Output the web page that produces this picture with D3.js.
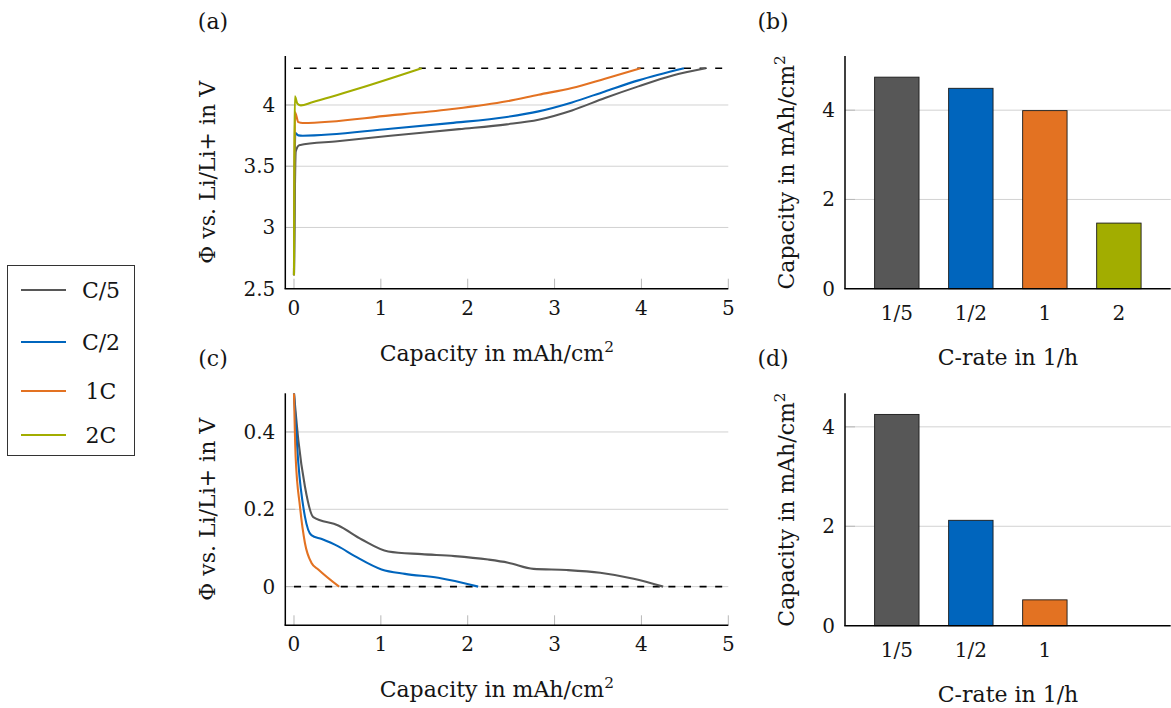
<!DOCTYPE html>
<html>
<head>
<meta charset="utf-8">
<script src="https://cdn.jsdelivr.net/npm/d3@7"></script>
<style>
  html, body { margin: 0; padding: 0; background: #fff; }
</style>
</head>
<body>
<svg id="fig" width="1171" height="708" font-family="'DejaVu Serif', 'Liberation Serif', serif"></svg>
<script>
// C-rates and their display names
const seriesNames = ["C/5", "C/2", "1C", "2C"];
const rateLabels = ["1/5", "1/2", "1", "2"];

// Charge curves: [capacity mAh/cm², potential V]
const chargeC5 = [[0,2.61],[0.02,3.62],[0.06,3.672],[0.5,3.704],[1.11,3.749],[1.9,3.803],[2.45,3.842],[2.815,3.88],[3.2,3.956],[3.58,4.057],[3.965,4.152],[4.35,4.239],[4.74,4.30]];
const chargeC2 = [[0,2.61],[0.015,3.77],[0.05,3.752],[0.1,3.749],[1.11,3.806],[1.8,3.852],[2.45,3.902],[2.815,3.948],[3.2,4.021],[3.58,4.111],[3.965,4.201],[4.49,4.30]];
const charge1C = [[0,2.61],[0.012,3.94],[0.05,3.86],[0.1,3.853],[1.11,3.915],[1.8,3.965],[2.45,4.03],[2.815,4.084],[3.2,4.139],[3.58,4.215],[3.99,4.30]];
const charge2C = [[0,2.61],[0.01,4.07],[0.04,4.01],[0.08,3.997],[0.2,4.02],[0.725,4.13],[1.47,4.30]];

// Discharge curves
const dischargeC5 = [[0,0.5],[0.05,0.379],[0.126,0.259],[0.222,0.18],[0.51,0.158],[0.78,0.122],[1.085,0.091],[1.47,0.084],[1.85,0.079],[2.236,0.070],[2.466,0.062],[2.757,0.046],[3.14,0.043],[3.525,0.036],[3.91,0.0205],[4.25,0]];
const dischargeC2 = [[0,0.5],[0.05,0.32],[0.126,0.181],[0.2,0.133],[0.32,0.123],[0.51,0.104],[0.70,0.079],[1.008,0.0445],[1.277,0.033],[1.66,0.023],[2.12,0]];
const discharge1C = [[0,0.5],[0.019,0.336],[0.069,0.207],[0.126,0.113],[0.2,0.062],[0.28,0.0445],[0.52,0]];

// Capacities reached per C-rate
const capCharge = [4.74, 4.49, 3.99, 1.47];
const capDischarge = [4.25, 2.12, 0.52];

// Cut-off potentials
const cutoffCharge = 4.3;
const cutoffDischarge = 0;

// Axis ticks
const capTicks = [0, 1, 2, 3, 4, 5];
const chargeTicks = [2.5, 3, 3.5, 4];
const dischargeTicks = [0, 0.2, 0.4];
const barTicksB = [0, 2, 4];
const barTicksD = [0, 2, 4];

const colors = ["#575757", "#0065bd", "#e37222", "#a2ad00"];

const svg = d3.select("#fig");
const FS = 20;      // tick labels
const FT = 22;      // titles, tags, legend
const gridCol = "#d2d2d2";
const tickCol = "#b8b8b8";
const textCol = "#151515";

function capLabel(sel) {
  sel.append("tspan").text("Capacity in mAh/cm");
  sel.append("tspan").attr("font-size", FT * 0.7).attr("dy", -9).text("2");
}

function linePanel(cfg) {
  const g = svg.append("g");
  const x = d3.scaleLinear().domain([-0.1, 5]).range([cfg.left, cfg.right]);
  const y = d3.scaleLinear().domain(cfg.yDomain).range([cfg.bottom, cfg.top]);

  // horizontal grid
  g.selectAll(".grid").data(cfg.yTicks.filter(v => v > cfg.yDomain[0]))
    .join("line")
    .attr("x1", cfg.left).attr("x2", cfg.right)
    .attr("y1", d => y(d)).attr("y2", d => y(d))
    .attr("stroke", gridCol).attr("stroke-width", 1);

  // y tick marks
  g.selectAll(".yt").data(cfg.yTicks.filter(v => v > cfg.yDomain[0]))
    .join("line")
    .attr("x1", cfg.left).attr("x2", cfg.left + 10)
    .attr("y1", d => y(d)).attr("y2", d => y(d))
    .attr("stroke", tickCol).attr("stroke-width", 1);

  // x tick marks
  g.selectAll(".xt").data(capTicks)
    .join("line")
    .attr("x1", d => x(d)).attr("x2", d => x(d))
    .attr("y1", cfg.bottom).attr("y2", cfg.bottom - 10)
    .attr("stroke", tickCol).attr("stroke-width", 1);

  // cut-off line
  g.append("line")
    .attr("x1", x(0)).attr("x2", x(5))
    .attr("y1", y(cfg.cutoff)).attr("y2", y(cfg.cutoff))
    .attr("stroke", "#000").attr("stroke-width", 1.6)
    .attr("stroke-dasharray", "7,8.6");

  const clipId = "clip" + cfg.id;
  svg.append("clipPath").attr("id", clipId).append("rect")
    .attr("x", cfg.left).attr("y", cfg.top)
    .attr("width", cfg.right - cfg.left).attr("height", cfg.bottom - cfg.top);

  const line = d3.line().x(d => x(d[0])).y(d => y(d[1])).curve(d3.curveMonotoneX);
  cfg.series.forEach((s, i) => {
    g.append("path").datum(s)
      .attr("clip-path", `url(#${clipId})`)
      .attr("d", line)
      .attr("fill", "none")
      .attr("stroke", colors[i])
      .attr("stroke-width", 2.1)
      .attr("stroke-linejoin", "round");
  });

  // axis lines
  g.append("line").attr("x1", cfg.left).attr("x2", cfg.left)
    .attr("y1", cfg.top).attr("y2", cfg.bottom)
    .attr("stroke", "#000").attr("stroke-width", 1.5);
  g.append("line").attr("x1", cfg.left - 0.75).attr("x2", cfg.right)
    .attr("y1", cfg.bottom).attr("y2", cfg.bottom)
    .attr("stroke", "#000").attr("stroke-width", 1.5);

  // tick labels
  g.selectAll(".xl").data(capTicks).join("text")
    .attr("x", d => x(d)).attr("y", cfg.bottom + 26)
    .attr("text-anchor", "middle").attr("font-size", FS).attr("fill", textCol)
    .text(d => d);
  g.selectAll(".yl").data(cfg.yTicks).join("text")
    .attr("x", cfg.left - 10).attr("y", d => y(d) + 7)
    .attr("text-anchor", "end").attr("font-size", FS).attr("fill", textCol)
    .text(d => d);

  // axis titles
  g.append("text").attr("x", (cfg.left + cfg.right) / 2 - 10).attr("y", cfg.bottom + 72)
    .attr("text-anchor", "middle").attr("font-size", FT).attr("fill", textCol).call(capLabel);
  g.append("text")
    .attr("transform", `translate(${cfg.left - 70},${(cfg.top + cfg.bottom) / 2}) rotate(-90)`)
    .attr("text-anchor", "middle").attr("font-size", FT).attr("fill", textCol)
    .text("Φ vs. Li/Li+ in V");

  g.append("text").attr("x", 213).attr("y", cfg.top - 27)
    .attr("text-anchor", "middle").attr("font-size", FT).attr("fill", textCol).text(cfg.tag);
}

function barPanel(cfg) {
  const g = svg.append("g");
  const x = d3.scaleLinear().domain([-0.7, 3.7]).range([cfg.left, cfg.right]);
  const y = d3.scaleLinear().domain([0, d3.max(cfg.values) * 1.1]).range([cfg.bottom, cfg.top]);

  g.selectAll(".grid").data(cfg.yTicks.filter(v => v > 0)).join("line")
    .attr("x1", cfg.left).attr("x2", cfg.right)
    .attr("y1", d => y(d)).attr("y2", d => y(d))
    .attr("stroke", gridCol).attr("stroke-width", 1);
  g.selectAll(".yt").data(cfg.yTicks.filter(v => v > 0)).join("line")
    .attr("x1", cfg.left).attr("x2", cfg.left + 10)
    .attr("y1", d => y(d)).attr("y2", d => y(d))
    .attr("stroke", tickCol).attr("stroke-width", 1);

  const bw = x(0.6) - x(0);
  g.selectAll(".bar").data(cfg.values).join("rect")
    .attr("x", (d, i) => x(i) - bw / 2)
    .attr("width", bw)
    .attr("y", d => y(d))
    .attr("height", d => y(0) - y(d))
    .attr("fill", (d, i) => colors[i])
    .attr("stroke", "#1a1a1a").attr("stroke-width", 0.9);

  g.append("line").attr("x1", cfg.left).attr("x2", cfg.left)
    .attr("y1", cfg.top).attr("y2", cfg.bottom)
    .attr("stroke", "#000").attr("stroke-width", 1.5);
  g.append("line").attr("x1", cfg.left - 0.75).attr("x2", cfg.right)
    .attr("y1", cfg.bottom).attr("y2", cfg.bottom)
    .attr("stroke", "#000").attr("stroke-width", 1.5);

  g.selectAll(".xl").data(cfg.values).join("text")
    .attr("x", (d, i) => x(i)).attr("y", cfg.bottom + 31)
    .attr("text-anchor", "middle").attr("font-size", FS).attr("fill", textCol)
    .text((d, i) => rateLabels[i]);
  g.selectAll(".yl").data(cfg.yTicks).join("text")
    .attr("x", cfg.left - 10).attr("y", d => y(d) + 7)
    .attr("text-anchor", "end").attr("font-size", FS).attr("fill", textCol)
    .text(d => d);

  g.append("text").attr("x", 1008).attr("y", cfg.bottom + 76)
    .attr("text-anchor", "middle").attr("font-size", FT).attr("fill", textCol)
    .text("C-rate in 1/h");
  g.append("text")
    .attr("transform", `translate(${cfg.left - 51},${(cfg.top + cfg.bottom) / 2}) rotate(-90)`)
    .attr("text-anchor", "middle").attr("font-size", FT).attr("fill", textCol).call(capLabel);

  g.append("text").attr("x", 773).attr("y", cfg.top - 27)
    .attr("text-anchor", "middle").attr("font-size", FT).attr("fill", textCol).text(cfg.tag);
}

linePanel({ id: "a", tag: "(a)", left: 285.3, right: 728.3, top: 56, bottom: 288.7,
  yDomain: [2.5, 4.4], yTicks: chargeTicks, cutoff: cutoffCharge,
  series: [chargeC5, chargeC2, charge1C, charge2C] });
linePanel({ id: "c", tag: "(c)", left: 285.3, right: 728.3, top: 393.3, bottom: 625.3,
  yDomain: [-0.1, 0.5], yTicks: dischargeTicks, cutoff: cutoffDischarge,
  series: [dischargeC5, dischargeC2, discharge1C] });
barPanel({ tag: "(b)", left: 845, right: 1170.7, top: 56, bottom: 288.7,
  values: capCharge, yTicks: barTicksB });
barPanel({ tag: "(d)", left: 845, right: 1170.7, top: 393.3, bottom: 625.7,
  values: capDischarge, yTicks: barTicksD });

// legend
const leg = svg.append("g");
leg.append("rect").attr("x", 7.5).attr("y", 265.5).attr("width", 127).attr("height", 190)
  .attr("fill", "#fff").attr("stroke", "#333").attr("stroke-width", 1);
const legY = [290, 342, 391, 435];
seriesNames.forEach((n, i) => {
  leg.append("line").attr("x1", 21).attr("x2", 66)
    .attr("y1", legY[i]).attr("y2", legY[i])
    .attr("stroke", colors[i]).attr("stroke-width", 2.1);
  leg.append("text").attr("x", 101).attr("y", legY[i] + 7.5)
    .attr("text-anchor", "middle").attr("font-size", FT).attr("fill", textCol).text(n);
});
</script>
</body>
</html>
